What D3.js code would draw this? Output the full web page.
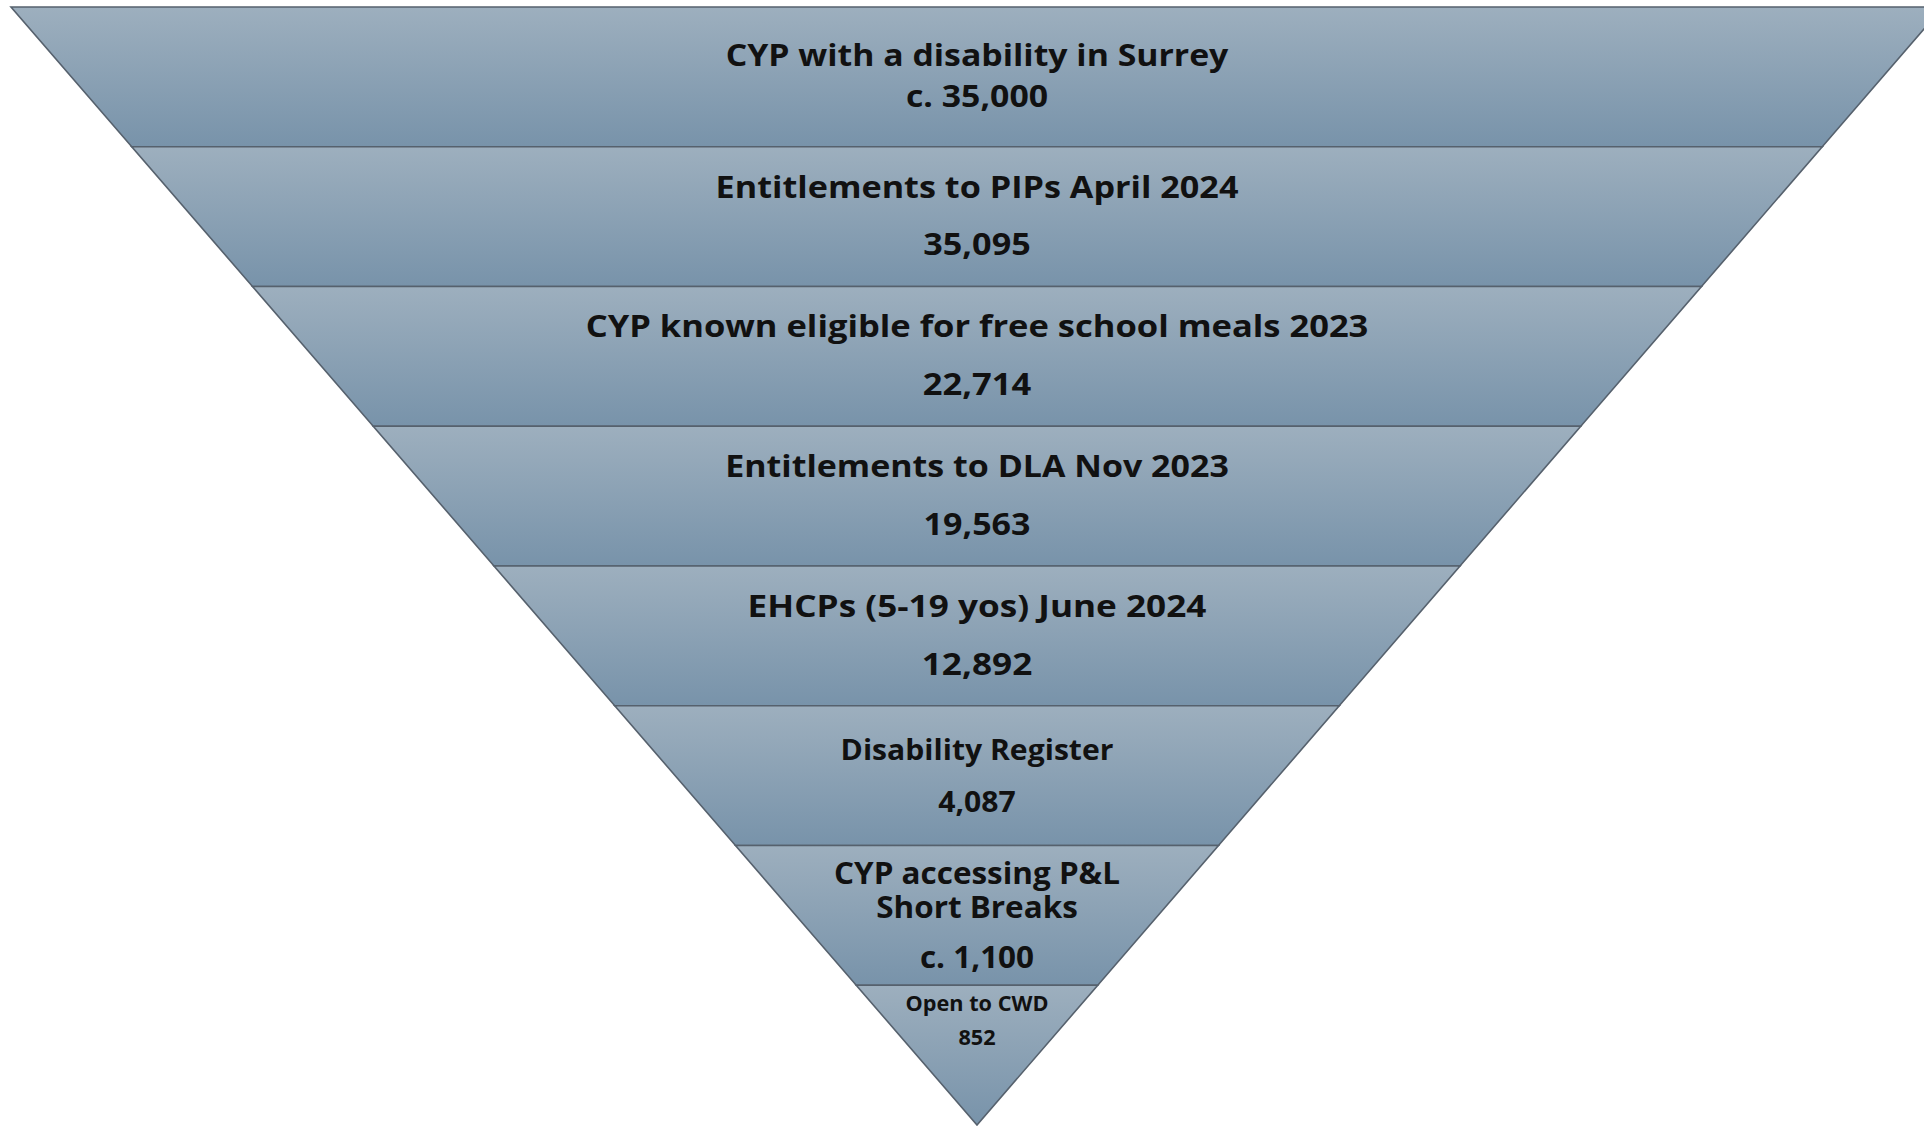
<!DOCTYPE html>
<html><head><meta charset="utf-8">
<script src="https://cdn.jsdelivr.net/npm/d3@7"></script>
<style>html,body{margin:0;padding:0;background:#fff;overflow:hidden}</style>
</head><body>
<svg id="chart" width="1924" height="1129"></svg>
<script>
// ---- data ----
const categories = [
  "CYP with a disability in Surrey",
  "Entitlements to PIPs April 2024",
  "CYP known eligible for free school meals 2023",
  "Entitlements to DLA Nov 2023",
  "EHCPs (5-19 yos) June 2024",
  "Disability Register",
  "CYP accessing P&L\nShort Breaks",
  "Open to CWD"
];
const valueLabels = ["c. 35,000","35,095","22,714","19,563","12,892","4,087","c. 1,100","852"];

// ---- styles (not data) ----
const fontSizes  = [31, 31, 31, 31, 31, 28, 30, 21];
const titleWidth = [503, 523, 783, 504, 459, 273, 286, 143];  // rendered width of first title line
const titleDy    = [-11, -19, -19, -19, -19, -16, -31, -44];  // first baseline relative to band centre
const lineGap    = [30, 30, 30, 30, 30, 30, 34, 30];
const valueGap   = [41, 57, 58, 58, 58, 52, 50, 34];

const svg = d3.select("#chart");
const apexX = 977, topY = 7, tipY = 1125, halfTop = 966;

const y = d3.scaleLinear().domain([0, categories.length]).range([topY, tipY]);
const half = d3.scaleLinear().domain([topY, tipY]).range([halfTop, 0]);

const defs = svg.append("defs");
const grad = defs.append("linearGradient").attr("id","g").attr("x1",0).attr("y1",0).attr("x2",0).attr("y2",1);
grad.append("stop").attr("offset","0%").attr("stop-color","#9dafbe");
grad.append("stop").attr("offset","100%").attr("stop-color","#7893aa");

const bands = svg.selectAll("g.band").data(categories).join("g").attr("class","band");

bands.append("path")
  .attr("d", (d,i) => {
    const y0 = y(i), y1 = y(i+1);
    const h0 = half(y0), h1 = half(y1);
    return `M${apexX-h0},${y0}L${apexX+h0},${y0}L${apexX+h1},${y1}L${apexX-h1},${y1}Z`;
  })
  .attr("fill","url(#g)")
  .attr("stroke","#56616d")
  .attr("stroke-width",1.6)
  .attr("stroke-linejoin","miter");

bands.each(function(d,i){
  const g = d3.select(this);
  const cy = (y(i)+y(i+1))/2;
  const lines = d.split("\n");
  const fam = "'Open Sans', 'DejaVu Sans', sans-serif";
  const all = lines.concat([valueLabels[i]]);
  let yy = cy + titleDy[i];
  let sx = 1;
  all.forEach((t,k) => {
    if (k>0) yy += (k === all.length-1) ? valueGap[i] : lineGap[i];
    const tx = g.append("text")
      .attr("x", 0).attr("y", 0)
      .attr("text-anchor","middle")
      .attr("font-family", fam)
      .attr("font-weight", 700)
      .attr("font-size", fontSizes[i])
      .attr("fill", "#111")
      .text(t);
    if (k === 0) {
      const w = tx.node().getComputedTextLength();
      sx = w > 0 ? titleWidth[i] / w : 1;
    }
    tx.attr("transform", `translate(${apexX},${yy}) scale(${sx},1)`);
  });
});
</script>
</body></html>
